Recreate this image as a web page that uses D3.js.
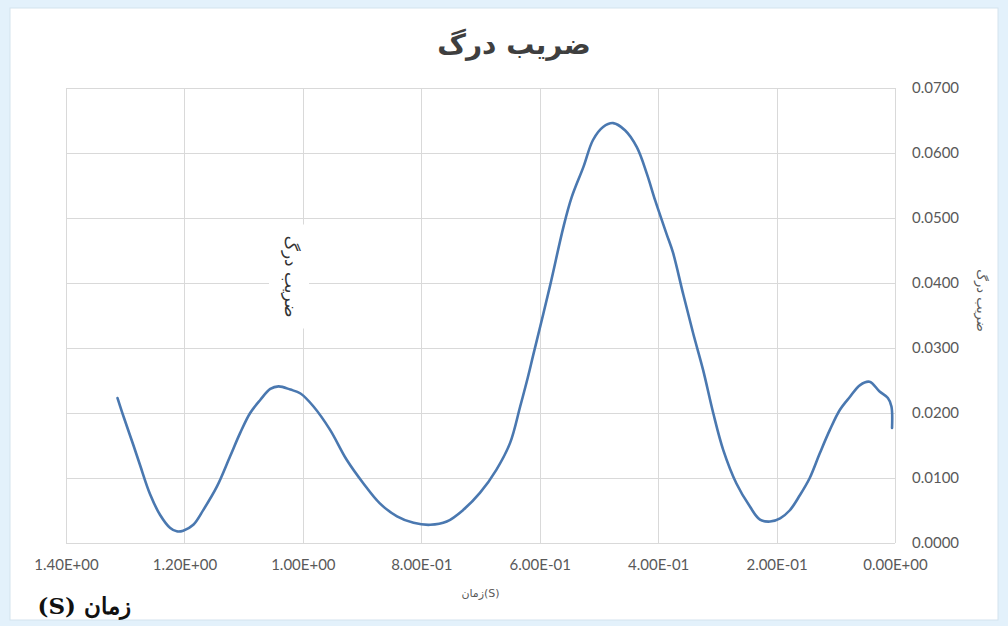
<!DOCTYPE html>
<html>
<head>
<meta charset="utf-8">
<script src="https://cdn.jsdelivr.net/npm/d3@7/dist/d3.min.js"></script>
<style>
  html, body { margin: 0; padding: 0; background: #e3f1fb; }
  svg { display: block; }
</style>
</head>
<body>
<svg id="chart" width="1008" height="626"></svg>
<script>
// Drag coefficient over time (time axis runs from 1.4 s down to 0 s)
const timeValues = [
  1.313, 1.303, 1.286, 1.275, 1.258, 1.241, 1.224, 1.213, 1.202, 1.185,
  1.168, 1.145, 1.123, 1.106, 1.089, 1.072, 1.055, 1.041, 1.021, 1.004,
  0.982, 0.954, 0.926, 0.898, 0.870, 0.841, 0.813, 0.785, 0.757, 0.729,
  0.701, 0.673, 0.650, 0.633, 0.620, 0.611, 0.583, 0.560, 0.546, 0.526,
  0.510, 0.493, 0.476, 0.456, 0.436, 0.419, 0.405, 0.386, 0.375, 0.358,
  0.341, 0.324, 0.307, 0.290, 0.268, 0.245, 0.228, 0.211, 0.194, 0.178,
  0.161, 0.144, 0.127, 0.110, 0.093, 0.076, 0.059, 0.043, 0.026, 0.012,
  0.006, 0.005
];
const dragValues = [
  0.0223, 0.0195, 0.0150, 0.0120, 0.0075, 0.0043, 0.0023, 0.0018, 0.0019, 0.0028,
  0.0051, 0.0087, 0.0133, 0.0169, 0.0200, 0.0220, 0.0237, 0.0241, 0.0236, 0.0230,
  0.0210, 0.0174, 0.0128, 0.0092, 0.0061, 0.0041, 0.0031, 0.0028, 0.0033, 0.0051,
  0.0077, 0.0113, 0.0154, 0.0210, 0.0255, 0.0289, 0.0394, 0.0486, 0.0532, 0.0579,
  0.0620, 0.0640, 0.0646, 0.0635, 0.0609, 0.0568, 0.0527, 0.0476, 0.0447, 0.0384,
  0.0323, 0.0266, 0.0200, 0.0143, 0.0092, 0.0056, 0.0036, 0.0033, 0.0038, 0.0050,
  0.0073, 0.0100, 0.0138, 0.0174, 0.0205, 0.0225, 0.0243, 0.0248, 0.0233, 0.0223,
  0.0210, 0.0177
];
const xTicks = [1.4, 1.2, 1.0, 0.8, 0.6, 0.4, 0.2, 0.0];
const yTicks = [0, 0.01, 0.02, 0.03, 0.04, 0.05, 0.06, 0.07];

const chartTitle = "ضریب درگ";
const yAxisTitle = "ضریب درگ";
const xAxisTitle = "زمان(S)";
const cornerNote = "زمان (S)";
const seriesLabel = "ضریب درگ";

const svg = d3.select("#chart");

// white chart panel
svg.append("rect")
  .attr("x", 10).attr("y", 8).attr("width", 988).attr("height", 612)
  .attr("fill", "#ffffff").attr("stroke", "#d4e3ee").attr("stroke-width", 1);

const plot = { left: 66, right: 895, top: 88, bottom: 543 };
const x = d3.scaleLinear().domain([1.4, 0]).range([plot.left, plot.right]);
const y = d3.scaleLinear().domain([0, 0.07]).range([plot.bottom, plot.top]);

// Excel-style scientific format: 1.40E+00, 8.00E-01
function sci(v) {
  const s = v.toExponential(2).toUpperCase();
  const m = s.match(/^(.*)E([+-])(\d+)$/);
  return m[1] + "E" + m[2] + m[3].padStart(2, "0");
}

// gridlines
const grid = svg.append("g").attr("stroke", "#d9d9d9").attr("stroke-width", 1);
grid.selectAll("line.v").data(xTicks).join("line")
  .attr("class", "v")
  .attr("x1", d => Math.round(x(d)) + 0.5).attr("x2", d => Math.round(x(d)) + 0.5)
  .attr("y1", plot.top).attr("y2", plot.bottom);
grid.selectAll("line.h").data(yTicks).join("line")
  .attr("class", "h")
  .attr("y1", d => Math.round(y(d)) + 0.5).attr("y2", d => Math.round(y(d)) + 0.5)
  .attr("x1", plot.left).attr("x2", plot.right);

// x axis labels
const xAxis = d3.axisBottom(x).tickValues(xTicks).tickFormat(sci).tickSize(0).tickPadding(16);
const gx = svg.append("g").attr("transform", `translate(0,${plot.bottom})`).call(xAxis);
gx.select(".domain").remove();
gx.selectAll("text").attr("font-family", "Lato, 'Open Sans', sans-serif")
  .attr("font-size", 15).attr("fill", "#595959");

// y axis labels on the right
const yAxis = d3.axisRight(y).tickValues(yTicks).tickFormat(d3.format(".4f")).tickSize(0).tickPadding(17);
const gy = svg.append("g").attr("transform", `translate(${plot.right},0)`).call(yAxis);
gy.select(".domain").remove();
gy.selectAll("text").attr("font-family", "Lato, 'Open Sans', sans-serif")
  .attr("font-size", 15).attr("fill", "#595959");

// data line
const pts = timeValues.map((t, i) => [t, dragValues[i]]);
svg.append("path")
  .datum(pts)
  .attr("fill", "none")
  .attr("stroke", "#4a78b0")
  .attr("stroke-width", 2.6)
  .attr("stroke-linejoin", "round")
  .attr("stroke-linecap", "round")
  .attr("d", d3.line().x(d => x(d[0])).y(d => y(d[1])).curve(d3.curveCatmullRom.alpha(0.5)));

// series label in the plot (vertical, on a white box)
const lblX = x(1.02), lblY = y(0.041);
svg.append("rect")
  .attr("x", lblX - 22).attr("y", lblY - 52).attr("width", 40).attr("height", 104)
  .attr("fill", "#ffffff");
svg.append("text")
  .attr("transform", `translate(${lblX},${lblY}) rotate(90)`)
  .attr("text-anchor", "middle").attr("dy", "0.35em")
  .attr("font-family", "'DejaVu Sans', sans-serif").attr("font-size", 17)
  .attr("fill", "#333333")
  .text(seriesLabel);

// title
svg.append("text")
  .attr("x", 514).attr("y", 54).attr("text-anchor", "middle")
  .attr("font-family", "'DejaVu Sans', sans-serif").attr("font-weight", "bold")
  .attr("font-size", 28).attr("fill", "#3f3f3f")
  .text(chartTitle);

// right axis title
svg.append("text")
  .attr("transform", `translate(982,${y(0.0373)}) rotate(90)`)
  .attr("text-anchor", "middle").attr("dy", "0.35em")
  .attr("font-family", "'DejaVu Sans', sans-serif").attr("font-size", 13)
  .attr("fill", "#595959")
  .text(yAxisTitle);

// bottom axis title
svg.append("text")
  .attr("x", (plot.left + plot.right) / 2).attr("y", 597).attr("text-anchor", "middle")
  .attr("font-family", "'DejaVu Sans', sans-serif").attr("font-size", 11)
  .attr("fill", "#595959")
  .text(xAxisTitle);

// corner note (right-to-left run, anchored at its right edge)
svg.append("text")
  .attr("x", 131).attr("y", 614)
  .attr("direction", "rtl").attr("text-anchor", "start")
  .attr("font-family", "'DejaVu Serif', 'Liberation Serif', serif").attr("font-size", 23)
  .attr("font-weight", "bold")
  .attr("fill", "#111111")
  .text(cornerNote);
</script>
</body>
</html>
